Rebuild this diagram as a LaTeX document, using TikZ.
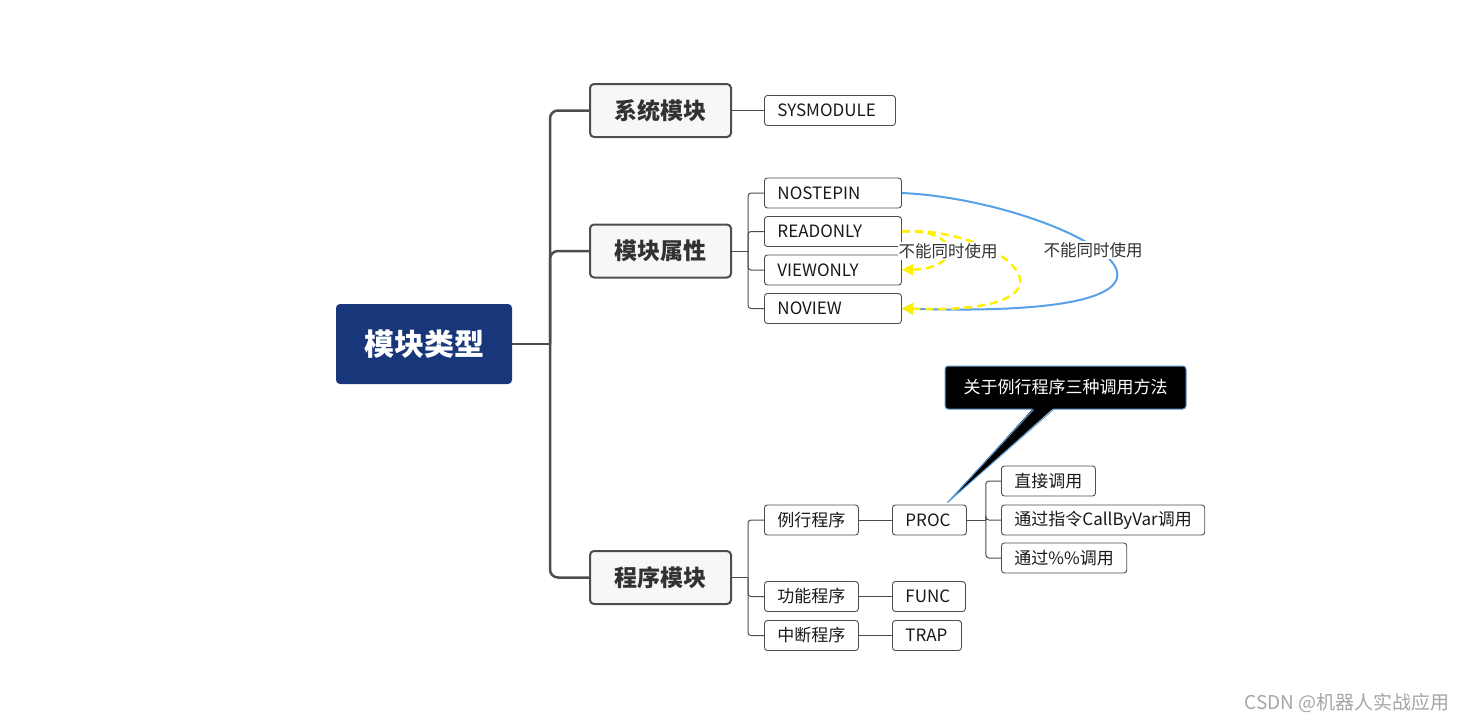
\documentclass[tikz,border=0pt]{standalone}
\usepackage{fontspec}
\setmainfont{Noto Sans CJK SC}
\usetikzlibrary{arrows.meta, positioning, calc}
\definecolor{rootblue}{RGB}{24,54,122}
\definecolor{edgegray}{RGB}{77,77,77}
\definecolor{boxgray}{RGB}{247,247,247}
\definecolor{inkgray}{RGB}{50,50,50}
\definecolor{relblue}{RGB}{88,160,232}
\definecolor{relyellow}{RGB}{255,240,0}
\definecolor{tipblue}{RGB}{91,155,213}
\definecolor{creditgray}{RGB}{165,165,165}

\begin{document}
\begin{tikzpicture}[x=1pt, y=-1pt,
                root/.style={rectangle, rounded corners=4pt, fill=rootblue, text=white, minimum width=176pt, minimum height=80pt, font=\fontsize{30}{35}\selectfont\bfseries},
                branch/.style={rectangle, draw=edgegray, line width=2pt, rounded corners=4pt, fill=boxgray, text=inkgray, minimum width=141pt, minimum height=53pt, font=\fontsize{23}{27}\selectfont\bfseries},
                leaf/.style={rectangle, draw=edgegray, line width=0.9pt, rounded corners=3pt, fill=white, anchor=west, inner xsep=13pt, minimum height=30pt, align=left, text=black!90, font=\fontsize{17}{20}\selectfont},
                callout/.style={rectangle, draw=tipblue, line width=1pt, rounded corners=3pt, fill=black, text=white, minimum width=241pt, minimum height=43pt, font=\fontsize{17}{20}\selectfont},
                rellabel/.style={fill=white, inner sep=1pt, text=inkgray, font=\fontsize{16.5}{20}\selectfont},
                watermark/.style={text=creditgray, font=\fontsize{19}{22}\selectfont},
                trunk/.style={draw=edgegray, line width=2.5pt, rounded corners=8pt},
                twig/.style={draw=edgegray, line width=1pt, rounded corners=3pt},
                relation/.style={line width=2pt, -{Triangle[length=11pt,width=11pt]}}
            ]
                \useasboundingbox (0,0) rectangle (1466,723);

                \node[root] (root) at (424,344) {模块类型};

                \node[branch] (sys) at (660.5,110.5) {系统模块};
                \node[branch] (attr) at (660.5,251) {模块属性};
                \node[branch] (prog) at (660.5,577.5) {程序模块};

                \node[leaf, text width=105pt] (sysmod) at (764,110.5) {SYSMODULE};

                \node[leaf, text width=111pt] (nostepin) at (764,193) {NOSTEPIN};
                \node[leaf, text width=111pt] (readonly) at (764,231.5) {READONLY};
                \node[leaf, text width=111pt] (viewonly) at (764,270) {VIEWONLY};
                \node[leaf, text width=111pt] (noview) at (764,308.5) {NOVIEW};

                \node[leaf] (routine) at (764,520) {例行程序};
                \node[leaf] (function) at (764,596.5) {功能程序};
                \node[leaf] (interrupt) at (764,635.5) {中断程序};

                \node[leaf, text width=48pt] (proc) at (892,520) {PROC};
                \node[leaf, text width=47pt] (func) at (892,596.5) {FUNC};
                \node[leaf, text width=43pt] (trap) at (892,635.5) {TRAP};

                \node[leaf] (direct) at (1001,481) {直接调用};
                \node[leaf] (byvar) at (1001,520) {通过指令CallByVar调用};
                \node[leaf] (bypct) at (1001,558) {通过\%\%调用};

                \coordinate (hub) at (550,344);
                \draw[trunk] (root.east) -- (hub);
                \draw[trunk] (hub) |- (sys.west);
                \draw[trunk] (hub) |- (attr.west);
                \draw[trunk] (hub) |- (prog.west);

                \draw[twig] (sys.east) -- (sysmod.west);

                \draw[twig] (attr.east) -- ++(16,0) coordinate (attrhub);
                \draw[twig] (attrhub) |- (nostepin.west);
                \draw[twig] (attrhub) |- (readonly.west);
                \draw[twig] (attrhub) |- (viewonly.west);
                \draw[twig] (attrhub) |- (noview.west);

                \draw[twig] (prog.east) -- ++(16,0) coordinate (proghub);
                \draw[twig] (proghub) |- (routine.west);
                \draw[twig] (proghub) |- (function.west);
                \draw[twig] (proghub) |- (interrupt.west);

                \draw[twig] (routine.east) -- (proc.west);
                \draw[twig] (function.east) -- (func.west);
                \draw[twig] (interrupt.east) -- (trap.west);

                \draw[twig] (proc.east) -- ++(19,0) coordinate (prochub);
                \draw[twig] (prochub) |- (direct.west);
                \draw[twig] (prochub) |- (byvar.west);
                \draw[twig] (prochub) |- (bypct.west);

                \node[callout] (note) at (1065.5,387.5) {关于例行程序三种调用方法};
                \coordinate (tip) at ($(proc.north)+(18,-2)$);
                \fill[black] ($(note.south)+(-32,-1.5)$) -- (tip) -- ($(note.south)+(-12,-1.5)$) -- cycle;
                \draw[tipblue, line width=1pt] ($(note.south)+(-32,0)$) -- (tip) -- ($(note.south)+(-12,0)$);

                \draw[relation, relblue] (nostepin.east) .. controls (1060,200) and (1290,320) .. (noview.east);
                \draw[relation, relyellow, line width=2.5pt, dash pattern=on 8pt off 5pt] (readonly.east) .. controls (960,228) and (965,268) .. (viewonly.east);
                \draw[relation, relyellow, line width=2.5pt, dash pattern=on 8pt off 5pt] (readonly.east) .. controls (1000,225) and (1105,315) .. (noview.east);

                \node[rellabel] (yellowtag) at (948,251) {不能同时使用};
                \node[rellabel] (bluetag) at (1093,250) {不能同时使用};

                \node[watermark] (credit) at (1347,703) {CSDN @机器人实战应用};
            \end{tikzpicture}
\end{document}
